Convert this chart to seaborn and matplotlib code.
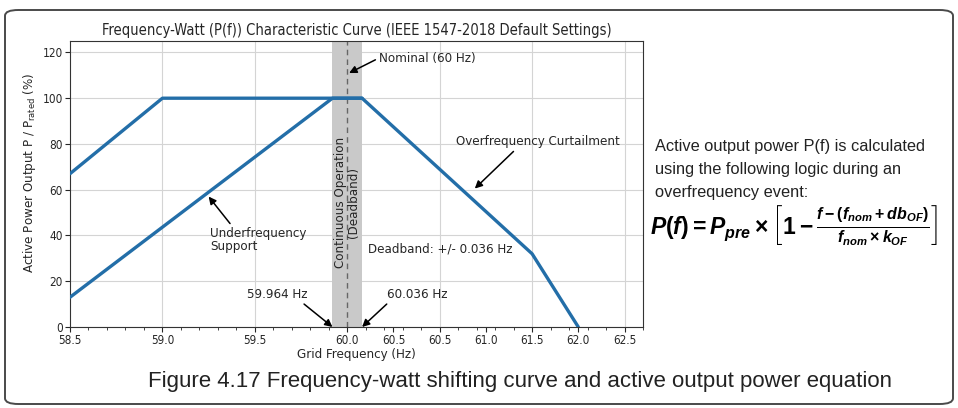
import matplotlib
matplotlib.use("Agg")
import matplotlib.pyplot as plt
import pandas as pd
import seaborn as sns
from matplotlib import font_manager as fm
from matplotlib.patches import FancyBboxPatch
from matplotlib.ticker import FixedLocator, MultipleLocator

# Curve vertices: position on the frequency axis (Hz) and active power (% of rated)
curtail_freq = [58.5, 59.0, 60.08, 61.0, 61.25]
curtail_power = [67, 100, 100, 32, 0]
support_freq = [58.5, 59.92, 60.08]
support_power = [13, 100, 100]

deadband_lo, deadband_hi = 59.92, 60.08
nominal_freq = 60.0

x_tick_pos = [58.5, 59.0, 59.5, 60.0, 60.25, 60.5, 60.75, 61.0, 61.25, 61.5]
x_tick_labels = ["58.5", "59.0", "59.5", "60.0", "60.5", "60.5", "61.0", "61.5", "62.0", "62.5"]
x_grid_pos = [59.0, 59.5, 60.0, 60.5, 61.0, 61.5]
y_ticks = [0, 20, 40, 60, 80, 100, 120]

sns.set_style("ticks")
names = {f.name for f in fm.fontManager.ttflist}
plt.rcParams["font.family"] = ["DejaVu Sans"]
plt.rcParams["mathtext.fontset"] = "custom"
plt.rcParams["mathtext.rm"] = "Liberation Sans:bold"
plt.rcParams["mathtext.it"] = "Liberation Sans:italic:bold"
plt.rcParams["mathtext.bf"] = "Liberation Sans:bold"
narrow = "Liberation Sans Narrow" if "Liberation Sans Narrow" in names else "Liberation Sans"
cond = dict(family="DejaVu Sans", stretch="condensed")

LINE = "#236ea8"

fig = plt.figure(figsize=(9.58, 4.08), dpi=100)
fig.patch.set_facecolor("white")

# rounded outer frame
frame = FancyBboxPatch((5 / 958, 4 / 408), 948 / 958, 394 / 408,
                       boxstyle="round,pad=0,rounding_size=0.014",
                       transform=fig.transFigure, fill=False,
                       edgecolor="#4a4a4a", linewidth=1.4)
fig.patches.append(frame)

ax = fig.add_axes([70 / 958, 81 / 408, 573 / 958, 286 / 408])

curt = pd.DataFrame({"freq": curtail_freq, "power": curtail_power})
supp = pd.DataFrame({"freq": support_freq, "power": support_power})

ax.axvspan(deadband_lo, deadband_hi, color="#c9c9c9", zorder=1, lw=0)
ax.axvline(nominal_freq, color="#666666", ls=(0, (4, 3)), lw=1.0, zorder=2)
for g in x_grid_pos:
    ax.axvline(g, color="#d4d4d4", lw=0.8, zorder=0)
for t in y_ticks:
    ax.axhline(t, color="#d4d4d4", lw=0.8, zorder=0)

sns.lineplot(data=supp, x="freq", y="power", ax=ax, color=LINE, lw=2.4, zorder=3)
sns.lineplot(data=curt, x="freq", y="power", ax=ax, color=LINE, lw=2.4, zorder=3)

ax.set_xlim(58.5, 61.6)
ax.set_ylim(0, 125)
ax.xaxis.set_major_locator(FixedLocator(x_tick_pos))
ax.set_xticklabels(x_tick_labels)
ax.xaxis.set_minor_locator(MultipleLocator(0.1))
ax.set_yticks(y_ticks)
ax.tick_params(axis="both", which="major", labelsize=8.5, length=3.5, width=0.8, pad=1.5)
ax.tick_params(axis="x", which="minor", length=2, width=0.6)
for lab in ax.get_xticklabels() + ax.get_yticklabels():
    lab.set_fontstretch("condensed")
for sp in ax.spines.values():
    sp.set_color("#333333")
    sp.set_linewidth(0.8)

ax.set_title("Frequency-Watt (P(f)) Characteristic Curve (IEEE 1547-2018 Default Settings)",
             fontsize=10.5, pad=4, **cond)
ax.set_xlabel("Grid Frequency (Hz)", fontsize=9.5, labelpad=1, **cond)
ax.set_ylabel(r"Active Power Output P / P$_{\mathregular{rated}}$ (%)", fontsize=9.5, **cond)
ax.yaxis.set_label_coords(-0.056, 0.54)

arrow = dict(arrowstyle="-|>", color="black", lw=1.1, mutation_scale=11, shrinkA=0, shrinkB=0)
afs = 9.5

ax.annotate("Nominal (60 Hz)", xy=(60.01, 111), xytext=(60.17, 117.5),
            ha="left", va="center", fontsize=afs,
            arrowprops=dict(arrow, relpos=(0, 0.5)), **cond)
ax.annotate("Overfrequency Curtailment", xy=(60.69, 60.5), xytext=(60.59, 81),
            ha="left", va="center", fontsize=afs,
            arrowprops=dict(arrow, relpos=(0.37, 0)), **cond)
ax.annotate("Underfrequency\nSupport", xy=(59.25, 57), xytext=(59.26, 38),
            ha="left", va="center", fontsize=afs, linespacing=1.05,
            arrowprops=dict(arrow, relpos=(0.23, 1)), **cond)
ax.text(60.11, 34, "Deadband: +/- 0.036 Hz", ha="left", va="center", fontsize=afs, **cond)
ax.annotate("59.964 Hz", xy=(deadband_lo, 0), xytext=(59.62, 14.3),
            ha="center", va="center", fontsize=afs,
            arrowprops=dict(arrow, relpos=(0.88, 0)), **cond)
ax.annotate("60.036 Hz", xy=(deadband_hi, 0), xytext=(60.38, 14.3),
            ha="center", va="center", fontsize=afs,
            arrowprops=dict(arrow, relpos=(0.05, 0)), **cond)
ax.text(60.0, 54.5, "Continuous Operation\n(Deadband)", rotation=90, ha="center",
        va="center", fontsize=afs, linespacing=1.0, multialignment="center", zorder=4, **cond)

# explanatory text and the overfrequency equation
body = ["Active output power P(f) is calculated",
        "using the following logic during an",
        "overfrequency event:"]
for i, line in enumerate(body):
    fig.text(655 / 958, 1 - (146 + 23.5 * i) / 408, line, ha="left", va="center",
             fontsize=11.8, family="Liberation Sans", color="#222222")
fig.text(650 / 958, 1 - 226 / 408,
         r"$P(f) = P_{pre} \times \left[1 - \frac{f - (f_{nom} + db_{OF})}{f_{nom} \times k_{OF}}\right]$",
         ha="left", va="center", fontsize=16.5, color="black")

fig.text(520 / 958, 1 - 382 / 408,
         "Figure 4.17 Frequency-watt shifting curve and active output power equation",
         ha="center", va="center", fontsize=16, family=narrow, color="#222222")

fig.savefig("out.png", dpi=100, facecolor="white")
